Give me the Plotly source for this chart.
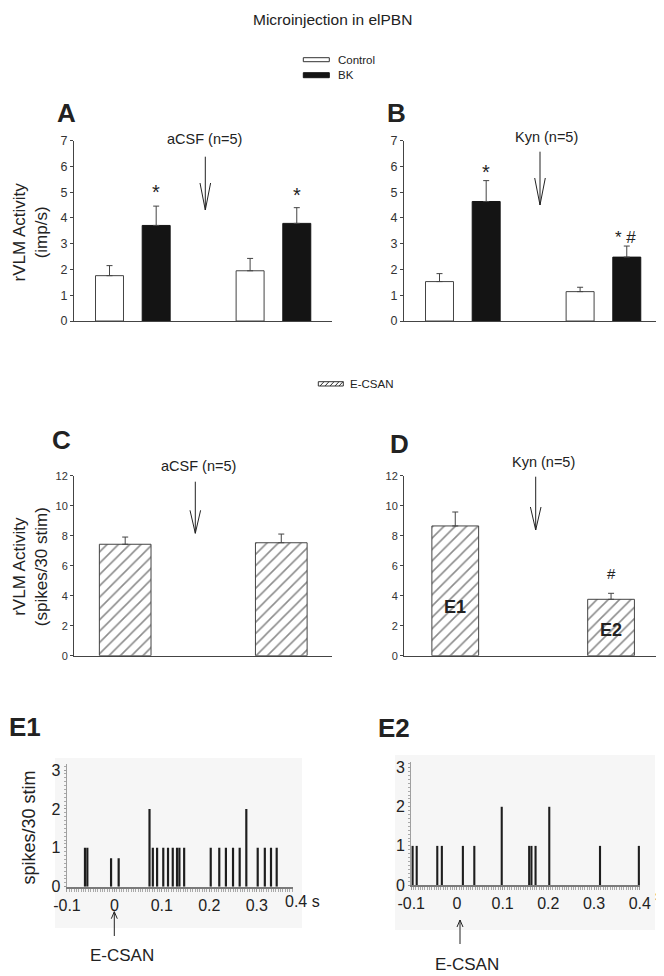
import plotly.graph_objects as go

W, H = 664, 976
OFF = 8  # the page body adds an 8px offset; positions below are page pixels
FONT = "Liberation Sans, Arial, sans-serif"
TXT = "#222222"

# ---------------- data ----------------
groups = ["Before", "After"]

a_control = [1.76, 1.95]
a_control_err = [0.39, 0.48]
a_bk = [3.71, 3.79]
a_bk_err = [0.75, 0.61]

b_control = [1.53, 1.14]
b_control_err = [0.31, 0.17]
b_bk = [4.64, 2.48]
b_bk_err = [0.81, 0.43]

c_ecsan = [7.43, 7.53]
c_ecsan_err = [0.48, 0.58]
d_ecsan = [8.65, 3.76]
d_ecsan_err = [0.93, 0.40]

ab_ticks = [0, 1, 2, 3, 4, 5, 6, 7]
cd_ticks = [0, 2, 4, 6, 8, 10, 12]

e1_time = [-0.062, -0.057, -0.007, 0.009, 0.074, 0.081, 0.090, 0.103, 0.113,
           0.123, 0.132, 0.137, 0.147, 0.203, 0.221, 0.235, 0.250, 0.264,
           0.278, 0.302, 0.317, 0.330, 0.342]
e1_count = [1, 1, 0.73, 0.73, 2, 1, 1, 1, 1,
            1, 1, 1, 1, 1, 1, 1, 1, 1,
            2, 1, 1, 1, 1]
e2_time = [-0.097, -0.088, -0.043, -0.033, 0.013, 0.038, 0.098, 0.158, 0.163,
           0.172, 0.202, 0.313, 0.398]
e2_count = [1, 1, 1, 1, 1, 1, 2, 1, 1,
            1, 2, 1, 1]
e_yticks = [0, 1, 2, 3]
e1_xticks = [-0.1, 0, 0.1, 0.2, 0.3]
e1_xticktext = ["-0.1", "0", "0.1", "0.2", "0.3"]
e2_xticks = [-0.1, 0, 0.1, 0.2, 0.3, 0.4]
e2_xticktext = ["-0.1", "0", "0.1", "0.2", "0.3", "0.4"]


# ---------------- helpers ----------------
def X(px):
    return (px - OFF) / W


def Y(py):
    return 1 - (py - OFF) / H


fig = go.Figure()

BARW_AB = 0.199
OFF_CTRL = -0.267
OFF_BK = 0.065


def add_ab(xa, ya, ctrl, ctrl_err, bk, bk_err):
    fig.add_trace(go.Bar(
        x=groups, y=ctrl, xaxis=xa, yaxis=ya, width=BARW_AB, offset=OFF_CTRL,
        marker=dict(color="white", line=dict(color="#444", width=1)),
        error_y=dict(type="data", array=ctrl_err, arrayminus=[0, 0], symmetric=False,
                     color="#444", thickness=1, width=3),
        showlegend=False))
    fig.add_trace(go.Bar(
        x=groups, y=bk, xaxis=xa, yaxis=ya, width=BARW_AB, offset=OFF_BK,
        marker=dict(color="#141414", line=dict(color="#141414", width=1)),
        error_y=dict(type="data", array=bk_err, arrayminus=[0, 0], symmetric=False,
                     color="#444", thickness=1, width=3),
        showlegend=False))


add_ab("x", "y", a_control, a_control_err, a_bk, a_bk_err)
add_ab("x2", "y2", b_control, b_control_err, b_bk, b_bk_err)


def add_cd(xa, ya, vals, err, width):
    fig.add_trace(go.Bar(
        x=groups, y=vals, xaxis=xa, yaxis=ya, width=width, offset=-width / 2,
        marker=dict(color="white", line=dict(color="#444", width=1),
                    pattern=dict(shape="/", fgcolor="#1a1a1a", bgcolor="white",
                                 size=8, solidity=0.2)),
        error_y=dict(type="data", array=err, arrayminus=[0, 0], symmetric=False,
                     color="#444", thickness=1, width=3),
        showlegend=False))


add_cd("x3", "y3", c_ecsan, c_ecsan_err, 0.331)
add_cd("x4", "y4", d_ecsan, d_ecsan_err, 0.30)

fig.add_trace(go.Bar(x=e1_time, y=e1_count, xaxis="x5", yaxis="y5", width=0.0046,
                     marker=dict(color="#1e1e1e", line=dict(width=0)), showlegend=False))
fig.add_trace(go.Bar(x=e2_time, y=e2_count, xaxis="x6", yaxis="y6", width=0.0046,
                     marker=dict(color="#1e1e1e", line=dict(width=0)), showlegend=False))

# ---------------- axes ----------------
AXC = "#444444"


def bar_xaxis(d0, d1, rng, anchor):
    return dict(domain=[X(d0), X(d1)], range=rng, type="category", anchor=anchor,
                showticklabels=False, ticks="", showline=True, linecolor=AXC,
                linewidth=1, showgrid=False, zeroline=False, fixedrange=True,
                automargin=False)


def bar_yaxis(b, t, rng, ticks, fs, anchor):
    return dict(domain=[Y(b), Y(t)], range=rng, tickvals=ticks, ticks="outside",
                anchor=anchor, ticklen=3, tickcolor=AXC, showline=True, linecolor=AXC,
                linewidth=1, showgrid=False, zeroline=False, automargin=False,
                tickfont=dict(family=FONT, size=fs, color="#333"))


layout = dict(
    width=W, height=H, autosize=False,
    margin=dict(l=0, r=0, t=0, b=0, pad=0, autoexpand=False),
    paper_bgcolor="white", plot_bgcolor="rgba(0,0,0,0)",
    barmode="overlay", showlegend=False,
    font=dict(family=FONT, color=TXT),
)
layout["xaxis"] = bar_xaxis(74, 332, [-0.42, 1.415], "y")
layout["yaxis"] = bar_yaxis(321, 140.7, [0, 7], ab_ticks, 12.5, "x")
layout["xaxis2"] = bar_xaxis(404, 662, [-0.42, 1.415], "y2")
layout["yaxis2"] = bar_yaxis(321, 140.7, [0, 7], ab_ticks, 12.5, "x2")
layout["xaxis3"] = bar_xaxis(74, 332, [-0.328, 1.325], "y3")
layout["yaxis3"] = bar_yaxis(655.7, 475.7, [0, 12], cd_ticks, 11, "x3")
layout["xaxis4"] = bar_xaxis(404, 662, [-0.329, 1.327], "y4")
layout["yaxis4"] = bar_yaxis(655.7, 475.7, [0, 12], cd_ticks, 11, "x4")


def e_xaxis(d0, d1, rng, tv, tt, anchor):
    return dict(domain=[X(d0), X(d1)], range=rng, tickvals=tv, ticktext=tt,
                anchor=anchor, ticks="outside", ticklen=3, tickcolor="#999",
                showline=True, linecolor="#7a7a7a", linewidth=2, showgrid=False,
                zeroline=False, automargin=False,
                minor=dict(tickmode="linear", tick0=-0.1, dtick=0.005, ticks="outside",
                           ticklen=3, tickcolor="#aaa", showgrid=False),
                tickfont=dict(family=FONT, size=16, color=TXT))


def e_yaxis(b, t, anchor):
    return dict(domain=[Y(b), Y(t)], range=[0, 3.15], tickvals=e_yticks, anchor=anchor,
                ticks="outside", ticklen=2, tickcolor="#999", showline=True,
                linecolor="#a0a0a0", linewidth=1, showgrid=False, zeroline=False,
                automargin=False,
                minor=dict(tickmode="linear", tick0=0, dtick=0.1, ticks="outside",
                           ticklen=2, tickcolor="#aaa", showgrid=False),
                tickfont=dict(family=FONT, size=16, color=TXT))


layout["xaxis5"] = e_xaxis(66.7, 293.3, [-0.1005, 0.377], e1_xticks, e1_xticktext, "y5")
layout["yaxis5"] = e_yaxis(886.7, 764.2, "x5")
layout["xaxis6"] = e_xaxis(411, 640, [-0.1005, 0.4005], e2_xticks, e2_xticktext, "y6")
layout["yaxis6"] = e_yaxis(885, 761.8, "x6")

fig.update_layout(**layout)

# ---------------- annotations ----------------
ann = []


def txt(px, py, s, size, bold=False, angle=0, xanchor="center", color=TXT):
    ann.append(dict(x=X(px), y=Y(py), xref="paper", yref="paper", text=(f"<b>{s}</b>" if bold else s),
                    showarrow=False, xanchor=xanchor, yanchor="middle", textangle=angle,
                    font=dict(family=FONT, size=size, color=color)))


txt(332, 20, "Microinjection in elPBN", 15.5)
# legends
txt(336, 60, "Control", 11.5, xanchor="left")
txt(336, 75.5, "BK", 11.5, xanchor="left")
txt(348.3, 384, "E-CSAN", 11.5, xanchor="left")
# panel letters
txt(66.7, 113.3, "A", 26, bold=True)
txt(396.3, 113.3, "B", 26, bold=True)
txt(61.7, 440, "C", 26, bold=True)
txt(399.7, 444, "D", 26, bold=True)
txt(24.5, 727, "E1", 26, bold=True)
txt(394, 728, "E2", 26, bold=True)
# treatment labels
txt(204.2, 138.8, "aCSF (n=5)", 14.5)
txt(546.3, 137.5, "Kyn (n=5)", 14.5)
txt(198.3, 465.7, "aCSF (n=5)", 14.5)
txt(543, 461.7, "Kyn (n=5)", 14.5)
# y axis titles
txt(29.5, 232, "rVLM Activity<br>(imp/s)", 17, angle=-90)
txt(30.5, 566.7, "rVLM Activity<br>(spikes/30 stim)", 17, angle=-90)
txt(28.5, 828, "spikes/30 stim", 18, angle=-90)
# E axis extras
txt(283, 901.7, "0.4 s", 16, xanchor="left")
txt(659, 895, "s", 16)
txt(121.7, 955, "E-CSAN", 17)
txt(466.7, 964, "E-CSAN", 17)


# significance marks (data coords)
def sig(xa, ya, xval, shift, yval, s, size):
    ann.append(dict(x=xval, y=yval, xref=xa, yref=ya, xshift=shift, text=s, showarrow=False,
                    xanchor="center", yanchor="middle",
                    font=dict(family=FONT, size=size, color=TXT)))


sig("x", "y", "Before", 23.3, 5.0, "*", 20)
sig("x", "y", "After", 23.3, 4.9, "*", 20)
sig("x2", "y2", "Before", 23.3, 5.8, "*", 20)
sig("x2", "y2", "After", 22.0, 3.25, "* #", 17)
sig("x4", "y4", "After", 0, 5.49, "#", 15)
ann.append(dict(x="Before", y=3.27, xref="x4", yref="y4", text="<b>E1</b>", showarrow=False,
                font=dict(family=FONT, size=18, color=TXT)))
ann.append(dict(x="After", y=1.71, xref="x4", yref="y4", text="<b>E2</b>", showarrow=False,
                font=dict(family=FONT, size=18, color=TXT)))

fig.update_layout(annotations=ann)

# ---------------- shapes ----------------
shapes = []


def line_path(path, color="#333", width=1, layer="above"):
    shapes.append(dict(type="path", xref="paper", yref="paper", path=path,
                       line=dict(color=color, width=width), layer=layer))


def arrow_down(x, ytop, ytip, hl, hw):
    p = (f"M{X(x)},{Y(ytop)} L{X(x)},{Y(ytip)} "
         f"M{X(x - hw)},{Y(ytip - hl)} L{X(x)},{Y(ytip)} L{X(x + hw)},{Y(ytip - hl)}")
    line_path(p, color="#222", width=1)


def arrow_up(x, ytip, ybot, hl, hw):
    p = (f"M{X(x)},{Y(ybot)} L{X(x)},{Y(ytip)} "
         f"M{X(x - hw)},{Y(ytip + hl)} L{X(x)},{Y(ytip)} L{X(x + hw)},{Y(ytip + hl)}")
    line_path(p, color="#222", width=1)


arrow_down(205.3, 156.7, 210, 27, 5.3)
arrow_down(540, 151.7, 205, 27, 5.3)
arrow_down(195.3, 481.7, 533.3, 23, 5.3)
arrow_down(535.7, 476.7, 530, 23, 5.3)
arrow_up(114.3, 911.7, 936, 7, 3)
arrow_up(460, 920, 944, 7, 3)

# legend boxes
shapes.append(dict(type="rect", xref="paper", yref="paper", x0=X(303.3), x1=X(329.3),
                   y0=Y(61.7), y1=Y(57.7), fillcolor="white", line=dict(color="#333", width=1)))
shapes.append(dict(type="rect", xref="paper", yref="paper", x0=X(303.3), x1=X(329.3),
                   y0=Y(77.7), y1=Y(72.7), fillcolor="#141414", line=dict(color="#141414", width=1)))
shapes.append(dict(type="rect", xref="paper", yref="paper", x0=X(318.3), x1=X(343.3),
                   y0=Y(386), y1=Y(381.7), fillcolor="white", line=dict(color="#333", width=1)))
hp = ""
for hx in [320, 325, 330, 335, 339]:
    hp += f"M{X(hx)},{Y(386)} L{X(hx + 4)},{Y(381.7)} "
line_path(hp, color="#333", width=1)

# faint backgrounds of raster panels
shapes.append(dict(type="rect", xref="paper", yref="paper", x0=X(55), x1=X(302),
                   y0=Y(928), y1=Y(758), fillcolor="#f6f6f6", line=dict(width=0), layer="below"))
shapes.append(dict(type="rect", xref="paper", yref="paper", x0=X(395), x1=X(655),
                   y0=Y(930), y1=Y(755), fillcolor="#f6f6f6", line=dict(width=0), layer="below"))

fig.update_layout(shapes=shapes)

fig.write_html("out.html")
